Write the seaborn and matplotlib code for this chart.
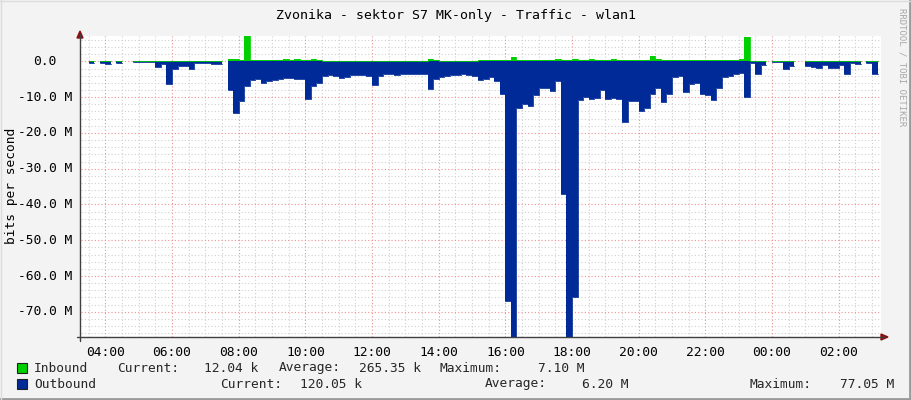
import numpy as np
import pandas as pd
import matplotlib
matplotlib.use("Agg")
import matplotlib.pyplot as plt
import seaborn as sns
from matplotlib.patches import Rectangle
from matplotlib.lines import Line2D

nan = np.nan

# ---- data (10-minute samples starting 03:20, values in Mbit/s) ----
start_hour = 3 + 20 / 60
step_hours = 10 / 60

outbound_mbps = [
    nan, 0.5, nan, 0.5, 0.6, nan, 0.5, nan, nan, 0.3, 0.3, 0.3,
    0.3, 1.6, 0.8, 6.4, 2.0, 1.3, 1.2, 2.0, 0.5, 0.5, 0.5, 0.7,
    0.7, nan, 8.0, 14.5, 11.0, 7.0, 5.3, 5.0, 6.0, 5.5, 5.2, 5.0,
    4.7, 4.7, 4.9, 4.9, 10.6, 7.0, 6.0, 4.0, 3.8, 4.2, 4.6, 4.3,
    3.9, 3.9, 3.9, 4.1, 6.6, 4.0, 3.6, 3.6, 3.7, 3.6, 3.6, 3.5,
    3.6, 3.6, 7.8, 5.0, 4.5, 4.0, 3.8, 3.7, 3.6, 3.8, 4.2, 5.2,
    5.0, 4.3, 5.5, 9.0, 67.0, 77.05, 13.0, 12.0, 12.5, 9.4, 7.5, 7.3,
    8.3, 5.5, 37.0, 77.0, 66.0, 10.8, 10.0, 10.5, 10.2, 8.0, 10.5, 10.2,
    10.5, 16.9, 11.0, 11.0, 14.0, 13.0, 9.0, 7.5, 11.3, 9.0, 4.5, 4.2,
    8.5, 6.4, 6.0, 9.0, 9.4, 10.8, 7.5, 4.5, 4.0, 3.6, 3.3, 10.0,
    0.5, 3.5, 1.0, nan, 0.3, 0.3, 2.0, 1.2, nan, nan, 1.2, 1.5,
    1.8, 0.9, 1.8, 1.8, 1.0, 3.4, 0.5, 0.8, nan, 0.5, 3.6,
]

inbound_mbps = [
    nan, 0.02, nan, 0.02, 0.02, nan, 0.02, nan, nan, 0.02, 0.15, 0.15,
    0.02, 0.02, 0.02, 0.02, 0.05, 0.05, 0.05, 0.02, 0.02, 0.1, 0.1, 0.02,
    0.02, nan, 0.7, 0.8, 0.5, 7.1, 0.3, 0.3, 0.3, 0.3, 0.4, 0.4,
    0.6, 0.3, 0.6, 0.5, 0.3, 0.6, 0.5, 0.2, 0.2, 0.2, 0.2, 0.2,
    0.2, 0.2, 0.2, 0.2, 0.2, 0.2, 0.2, 0.2, 0.2, 0.2, 0.2, 0.2,
    0.2, 0.2, 0.6, 0.3, 0.2, 0.2, 0.2, 0.2, 0.2, 0.2, 0.2, 0.3,
    0.4, 0.3, 0.4, 0.3, 0.5, 1.1, 0.4, 0.5, 0.4, 0.4, 0.5, 0.4,
    0.5, 0.6, 0.5, 0.4, 0.6, 0.5, 0.5, 0.6, 0.5, 0.5, 0.5, 0.6,
    0.5, 0.5, 0.5, 0.5, 0.5, 0.5, 1.6, 0.7, 0.4, 0.4, 0.3, 0.3,
    0.3, 0.3, 0.3, 0.3, 0.3, 0.3, 0.3, 0.3, 0.3, 0.3, 0.8, 6.8,
    0.2, 0.2, 0.2, nan, 0.2, 0.2, 0.2, 0.2, nan, nan, 0.1, 0.1,
    0.1, 0.1, 0.1, 0.1, 0.1, 0.1, 0.1, 0.1, nan, 0.1, 0.1,
]

x_tick_hours = [4, 6, 8, 10, 12, 14, 16, 18, 20, 22, 24, 26]
x_tick_labels = ["04:00", "06:00", "08:00", "10:00", "12:00", "14:00",
                 "16:00", "18:00", "20:00", "22:00", "00:00", "02:00"]
y_tick_values = [0, -10, -20, -30, -40, -50, -60, -70]
y_tick_labels = ["0.0", "-10.0 M", "-20.0 M", "-30.0 M", "-40.0 M",
                 "-50.0 M", "-60.0 M", "-70.0 M"]

title = "Zvonika - sektor S7 MK-only - Traffic - wlan1"
legend_rows = [
    ("Inbound", "#00CF00", [("Current:", 117, "12.04 k", 258),
                            ("Average:", 279, "265.35 k", 421),
                            ("Maximum:", 440, "7.10 M", 584)]),
    ("Outbound", "#002A97", [("Current:", 220, "120.05 k", 362),
                             ("Average:", 485, "6.20 M", 628),
                             ("Maximum:", 750, "77.05 M", 894)]),
]

# ---- build step arrays ----
n = len(outbound_mbps)
edges = start_hour + np.arange(n + 1) * step_hours
xs = np.repeat(edges, 2)[1:-1]
out_vals = -np.repeat(np.array(outbound_mbps, dtype=float), 2)
in_vals = np.repeat(np.array(inbound_mbps, dtype=float), 2)
df = pd.DataFrame({"hour": xs, "out": out_vals, "in": in_vals})


def segments(col):
    d = df[["hour", col]].copy()
    d["seg"] = d[col].isna().cumsum()
    return d.dropna()


# ---- style ----
sns.set_theme(style="white")
plt.rcParams["font.family"] = ["DejaVu Sans Mono", "DejaVu Sans"]

W, H = 911, 400
fig = plt.figure(figsize=(W / 100, H / 100), dpi=100)
fig.patch.set_facecolor("#F3F3F3")


def fx(x):
    return x / W


def fy(y):
    return 1 - y / H


ax_left, ax_right, ax_top, ax_bottom = 81, 881, 36, 337
ax = fig.add_axes([fx(ax_left), fy(ax_bottom), (ax_right - ax_left) / W,
                   (ax_bottom - ax_top) / H])
ax.set_facecolor("#FFFFFF")
xmin, xmax = 3.271, 27.271
ymin, ymax = -77.05, 7.10
ax.set_xlim(xmin, xmax)
ax.set_ylim(ymin, ymax)

# grids
minor_color = "#D0D0D0"
major_color = "#F09090"
dot = (0, (1, 2))
for h in np.arange(3.5, 27.5, 0.5):
    if h % 2 != 0:
        ax.axvline(h, color=minor_color, lw=0.8, ls=dot, zorder=0)
for v in np.arange(-76, 8, 2):
    if v % 10 != 0:
        ax.axhline(v, color=minor_color, lw=0.8, ls=dot, zorder=0)
for h in x_tick_hours:
    ax.axvline(h, color=major_color, lw=0.8, ls=dot, zorder=0.5)
for v in y_tick_values:
    ax.axhline(v, color=major_color, lw=0.8, ls=dot, zorder=0.5)

# areas
ax.fill_between(df["hour"], 0, df["out"], color="#002A97", lw=0, zorder=2)
ax.fill_between(df["hour"], 0, df["in"], color="#00CF00", lw=0, zorder=2)
sns.lineplot(data=segments("out"), x="hour", y="out", units="seg", ax=ax,
             color="#002A97", lw=0.6, estimator=None, sort=False, zorder=2.5)
sns.lineplot(data=segments("in"), x="hour", y="in", units="seg", ax=ax,
             color="#00CF00", lw=0.6, estimator=None, sort=False, zorder=2.5)

for s in ax.spines.values():
    s.set_visible(False)
ax.set_xticks([])
ax.set_yticks([])
ax.set_xlabel("")
ax.set_ylabel("")

# axis lines and arrows (figure pixel coords)
axis_col = "#404040"
fig.add_artist(Line2D([fx(80), fx(80)], [fy(341), fy(34)], color=axis_col, lw=1))
fig.add_artist(Line2D([fx(77), fx(884)], [fy(337), fy(337)], color=axis_col, lw=1))
fig.add_artist(plt.Polygon([[fx(77), fy(38)], [fx(83), fy(38)], [fx(80), fy(31)]],
                           closed=True, color="#8B1010"))
fig.add_artist(plt.Polygon([[fx(881), fy(334)], [fx(881), fy(340)], [fx(888), fy(337)]],
                           closed=True, color="#8B1010"))

# x tick labels
for h, lab in zip(x_tick_hours, x_tick_labels):
    ax.text(h, -0.03, lab, transform=ax.get_xaxis_transform(), ha="center",
            va="top", fontsize=9.3, color="#000000")

# y tick labels
ytrans = ax.get_yaxis_transform()
for v, lab in zip(y_tick_values, y_tick_labels):
    xr = 72 if v != 0 else 56
    ax.text((xr - ax_left) / (ax_right - ax_left), v, lab, transform=ytrans,
            ha="right", va="center", fontsize=9.3, color="#000000")

fig.text(fx(12), fy(186), "bits per second", rotation=90, ha="center",
         va="center", fontsize=9.3, color="#000000")
fig.text(fx(455.5), fy(15), title, ha="center", va="center", fontsize=9.5,
         color="#000000")
fig.text(fx(902), fy(8), "RRDTOOL / TOBI OETIKER", rotation=270, ha="center",
         va="top", fontsize=6.5, color="#A8A8A8")

# legend
for row, (name, col, items) in enumerate(legend_rows):
    yc = 368 + 16 * row
    fig.add_artist(Rectangle((fx(17), fy(yc + 5)), 10 / W, 10 / H,
                             facecolor=col, edgecolor="#202020", lw=0.8))
    fig.text(fx(34), fy(yc), name, ha="left", va="center", fontsize=9.3)
    for lab, lx, val, vx in items:
        fig.text(fx(lx), fy(yc), lab, ha="left", va="center", fontsize=9.3)
        fig.text(fx(vx), fy(yc), val, ha="right", va="center", fontsize=9.3)

# frame
fig.add_artist(Line2D([0, 1], [fy(399), fy(399)], color="#9A9A9A", lw=2))
fig.add_artist(Line2D([fx(910), fx(910)], [0, 1], color="#9A9A9A", lw=2))
fig.add_artist(Line2D([0, 1], [fy(0.5), fy(0.5)], color="#DCDCDC", lw=1))
fig.add_artist(Line2D([fx(0.5), fx(0.5)], [0, 1], color="#DCDCDC", lw=1))

fig.savefig("out.png", dpi=100, facecolor=fig.get_facecolor())
